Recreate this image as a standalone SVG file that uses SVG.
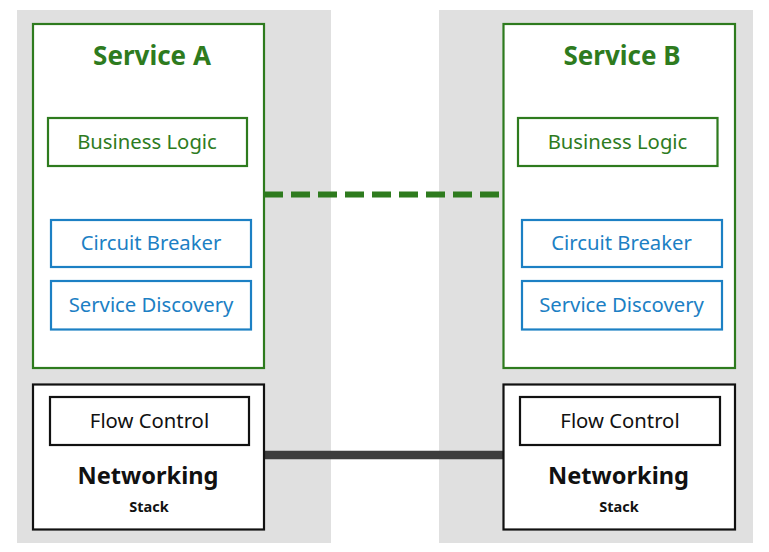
<svg xmlns="http://www.w3.org/2000/svg" width="769" height="552" viewBox="0 0 769 552">
<style>
text{font-family:"Noto Sans","Open Sans","Liberation Sans",sans-serif;text-anchor:middle}
.band{fill:#e0e0e0}
.svc{fill:#fff;stroke:#2e7b1e;stroke-width:2.2}
.bl{fill:#fff;stroke:#2e7b1e;stroke-width:2.2}
.blue{fill:#fff;stroke:#1c80c4;stroke-width:2.2}
.net{fill:#fff;stroke:#111;stroke-width:2.2}
.title{font-size:26px;font-weight:bold;fill:#2e7b1e}
.gl{font-size:20.3px;fill:#2e7b1e}
.bt{font-size:20.3px;fill:#1c80c4}
.kt{font-size:20.3px;fill:#111}
.nt{font-size:23.6px;font-weight:bold;fill:#111}
.st{font-size:14.5px;font-weight:bold;fill:#111}
</style>
<rect class="band" x="17" y="10" width="314" height="533"/>
<rect class="band" x="439" y="10" width="314" height="533"/>
<g id="connectors">
<line x1="264" y1="194.5" x2="503" y2="194.5" stroke="#2e7b1e" stroke-width="6" stroke-dasharray="19 8"/>
<line x1="264" y1="455" x2="503" y2="455" stroke="#3d3d3d" stroke-width="8.5"/>
</g>
<g id="serviceA">
<rect class="svc" x="33" y="24" width="231" height="344"/>
<text class="title" x="152" y="65">Service A</text>
</g>
<g id="businessLogicA">
<rect class="bl" x="48" y="118" width="199" height="48"/>
<text class="gl" x="147" y="148.5">Business Logic</text>
</g>
<g id="circuitBreakerA">
<rect class="blue" x="51" y="220" width="200" height="47"/>
<text class="bt" x="151" y="250">Circuit Breaker</text>
</g>
<g id="serviceDiscoveryA">
<rect class="blue" x="51" y="281" width="200" height="48.5"/>
<text class="bt" x="151" y="311.5">Service Discovery</text>
</g>
<g id="networkingA">
<rect class="net" x="33" y="384.5" width="231" height="145"/>
<text class="nt" x="148" y="484">Networking</text>
<text class="st" x="149" y="512">Stack</text>
</g>
<g id="flowControlA">
<rect class="net" x="50" y="397" width="199" height="48"/>
<text class="kt" x="149.5" y="427.5">Flow Control</text>
</g>
<g id="serviceB">
<rect class="svc" x="503.5" y="24" width="231.5" height="344"/>
<text class="title" x="622" y="65">Service B</text>
</g>
<g id="businessLogicB">
<rect class="bl" x="518" y="118" width="199.5" height="48"/>
<text class="gl" x="617.5" y="148.5">Business Logic</text>
</g>
<g id="circuitBreakerB">
<rect class="blue" x="522" y="220" width="200" height="47"/>
<text class="bt" x="621.5" y="250">Circuit Breaker</text>
</g>
<g id="serviceDiscoveryB">
<rect class="blue" x="522" y="281" width="200" height="48.5"/>
<text class="bt" x="621.5" y="311.5">Service Discovery</text>
</g>
<g id="networkingB">
<rect class="net" x="503.5" y="384.5" width="231.5" height="145"/>
<text class="nt" x="618.5" y="484">Networking</text>
<text class="st" x="619" y="512">Stack</text>
</g>
<g id="flowControlB">
<rect class="net" x="520" y="397" width="200" height="48"/>
<text class="kt" x="620" y="427.5">Flow Control</text>
</g>
</svg>
